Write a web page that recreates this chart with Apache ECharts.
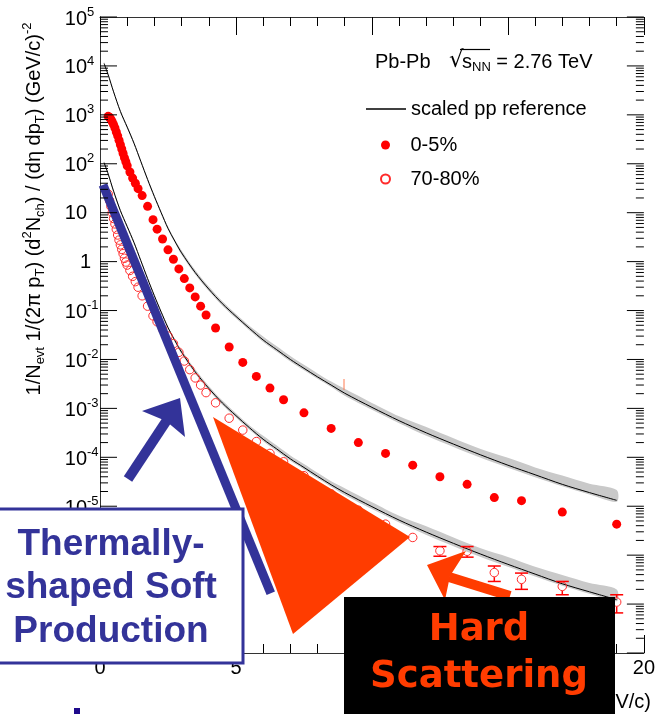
<!DOCTYPE html>
<html><head><meta charset="utf-8">
<script src="https://cdn.jsdelivr.net/npm/echarts@6/dist/echarts.min.js"></script>
<style>html,body{margin:0;padding:0;background:#fff}#c{width:658px;height:714px}</style>
</head><body><div id="c"></div>
<script>
// ---- data ----
const ptCentral = [0.30,0.35,0.40,0.45,0.50,0.55,0.60,0.65,0.70,0.75,0.80,0.85,0.90,0.95,1.00,1.10,1.20,1.30,1.40,1.55,1.75,1.95,2.10,2.30,2.50,2.70,2.90,3.10,3.30,3.50,3.70,3.90,4.25,4.75,5.25,5.75,6.25,6.75,7.5,8.5,9.5,10.5,11.5,12.5,13.5,14.5,15.5,17,19];
const yCentral = [933,891,813,724,631,537,447,372,302,245,200,162,132,110,91,68,51,40,31,22.4,13.5,7.2,4.6,2.9,1.74,1.12,0.71,0.45,0.29,0.19,0.123,0.081,0.044,0.018,0.0087,0.0045,0.0026,0.0015,8.1e-4,3.9e-4,2.0e-4,1.2e-4,6.9e-5,4.0e-5,2.8e-5,1.5e-5,1.3e-5,7.6e-6,4.3e-6];
const ptPeripheral = [0.30,0.35,0.40,0.45,0.50,0.55,0.60,0.65,0.70,0.75,0.80,0.85,0.90,0.95,1.00,1.10,1.20,1.30,1.40,1.55,1.75,1.95,2.10,2.30,2.50,2.70,2.90,3.10,3.30,3.50,3.70,3.90,4.25,4.75,5.25,5.75,6.25,6.75,7.5,8.5,9.5,10.5,11.5,12.5,13.5,14.5,15.5,17,19];
const yPeripheral = [24,17.8,13.5,10,7.6,5.9,4.6,3.5,2.75,2.2,1.78,1.45,1.17,0.98,0.85,0.66,0.50,0.39,0.30,0.20,0.123,0.078,0.059,0.042,0.030,0.021,0.014,0.0093,0.0062,0.0042,0.0030,0.0021,0.0013,6.3e-4,3.6e-4,2.1e-4,1.2e-4,8.1e-5,4.2e-5,1.8e-5,8.3e-6,4.3e-6,2.3e-6,1.23e-6,1.2e-6,4.4e-7,3.2e-7,2.3e-7,1.1e-7];
// error bars on the peripheral points at high pT
const errPt = [12.5,13.5,14.5,15.5,17,19];
const errY  = [1.23e-6,1.2e-6,4.4e-7,3.2e-7,2.3e-7,1.1e-7];
const errLo = [9.5e-7,9.1e-7,2.9e-7,2.0e-7,1.55e-7,6.6e-8];
const errHi = [1.5e-6,1.5e-6,6.0e-7,4.3e-7,2.9e-7,1.55e-7];
// scaled pp references
const ptRef = [0.15,0.3,0.5,0.75,1.0,1.25,1.5,1.75,2.0,2.25,2.5,2.75,3.0,3.5,4.0,4.5,5.0,5.5,6.0,6.5,7.0,7.5,8.0,8.5,9.0,10,11,12,13,14,15,16,17,18,19];
const refCentral = [11200,6600,2950,1175,562,263,112,47.9,21.4,10,4.8,2.63,1.51,0.60,0.275,0.138,0.076,0.043,0.025,0.0158,0.01,0.0066,0.0044,0.003,0.00204,1.05e-3,5.6e-4,3.16e-4,1.86e-4,1.12e-4,6.9e-5,4.4e-5,2.8e-5,1.9e-5,1.32e-5];
const refPeripheral = [105,62,27.5,11,5.2,2.45,1.05,0.45,0.2,0.093,0.045,0.0245,0.0141,0.0056,2.57e-3,1.29e-3,7.1e-4,4.0e-4,2.34e-4,1.48e-4,9.3e-5,6.2e-5,4.1e-5,2.75e-5,1.9e-5,9.8e-6,5.2e-6,2.95e-6,1.74e-6,1.05e-6,6.5e-7,4.1e-7,2.6e-7,1.78e-7,1.23e-7];
// grey band (systematic uncertainty, in decades above/below the reference)
const bandUp = [0.03,0.03,0.03,0.03,0.03,0.03,0.03,0.03,0.03,0.03,0.03,0.03,0.05,0.05,0.05,0.05,0.05,0.05,0.07,0.07,0.07,0.07,0.07,0.07,0.09,0.09,0.09,0.12,0.12,0.12,0.15,0.15,0.18,0.18,0.21];
const bandDn = [0.03,0.03,0.03,0.03,0.03,0.03,0.03,0.03,0.03,0.03,0.03,0.03,0.04,0.04,0.04,0.04,0.04,0.04,0.04,0.04,0.04,0.04,0.04,0.04,0.05,0.05,0.05,0.06,0.06,0.06,0.05,0.05,0.04,0.04,0.03];
// "thermal" straight line annotation (endpoints)
const thermalPt = [0.11, 6.28];
const thermalY = [37, 1.66e-7];
// axis ranges / ticks
const xTicks = [0,5,10,15,20];
const yTickExp = [-8,-7,-6,-5,-4,-3,-2,-1,0,1,2,3,4,5];
const seriesNames = ['scaled pp reference','0-5%','70-80%'];

// ---- chart ----
const FONT = '"Liberation Sans", Arial, Helvetica, sans-serif';
const BOLD2 = '"DejaVu Sans", sans-serif';
const NAVY = '#333399', ORANGE = '#ff3c00';
const chart = echarts.init(document.getElementById('c'), null, {renderer:'canvas'});

const zip = (a,b) => a.map((v,i)=>[v,b[i]]);
const yMin = Math.pow(10, yTickExp[0]), yMax = Math.pow(10, yTickExp[yTickExp.length-1]);
// tick marks for the log axis: [kind, value, exponent]  kind 1 = decade, 0 = minor
const yTickMarks = [];
yTickExp.forEach((e, i) => {
  yTickMarks.push([1, Math.pow(10, e), e]);
  if (i < yTickExp.length - 1) for (let k = 2; k <= 9; k++) yTickMarks.push([0, k*Math.pow(10, e), e]);
});

function bandSeries(ref){
  return {
    type:'custom', z:1, silent:true, data:[[1,1]],
    renderItem(params, api){
      const top = [], bot = [];
      for (let i=0;i<ptRef.length;i++){
        top.push(api.coord([ptRef[i], ref[i]*Math.pow(10,bandUp[i])]));
        bot.push(api.coord([ptRef[i], ref[i]/Math.pow(10,bandDn[i])]));
      }
      return {type:'polygon', shape:{points: top.concat(bot.reverse()), smooth:0.3}, style:{fill:'#c9c9c9'}};
    }
  };
}

const axisLineStyle = {color:'#333', width:1};
const tickStyle = {color:'#000', width:1};

const option = {
  animation:false,
  textStyle:{fontFamily:FONT},
  grid:{left:100, top:17, width:551, height:636, show:false},
  legend:[
    {left:366, top:99, itemWidth:40, itemHeight:1.3, padding:0, icon:'rect',
     data:[seriesNames[0]], selectedMode:false, itemStyle:{color:'#000'},
     textStyle:{fontSize:20, color:'#000', fontFamily:FONT}},
    {orient:'vertical', left:380, top:135, itemWidth:40, itemHeight:9, itemGap:14, padding:0, icon:'circle',
     data:[seriesNames[1], seriesNames[2]], selectedMode:false,
     textStyle:{fontSize:20, color:'#000', fontFamily:FONT}}
  ],
  xAxis:[
    {type:'value', min:xTicks[0], max:xTicks[xTicks.length-1], interval:5, position:'bottom',
     axisLine:{lineStyle:axisLineStyle}, splitLine:{show:false},
     axisTick:{inside:true, length:18, lineStyle:tickStyle},
     minorTick:{show:true, splitNumber:5, length:9, lineStyle:tickStyle},
     axisLabel:{fontSize:20, color:'#000', margin:5, fontFamily:FONT}},
    {type:'value', min:xTicks[0], max:xTicks[xTicks.length-1], interval:5, position:'top',
     axisLine:{lineStyle:axisLineStyle}, splitLine:{show:false},
     axisTick:{inside:true, length:18, lineStyle:tickStyle},
     minorTick:{show:true, splitNumber:5, length:9, lineStyle:tickStyle},
     axisLabel:{show:false}}
  ],
  yAxis:[
    {type:'log', logBase:10, min:yMin, max:yMax, position:'left',
     axisLine:{lineStyle:axisLineStyle}, splitLine:{show:false},
     axisTick:{show:false}, minorTick:{show:false}, axisLabel:{show:false}},
    {type:'log', logBase:10, min:yMin, max:yMax, position:'right',
     axisLine:{lineStyle:axisLineStyle}, splitLine:{show:false},
     axisTick:{show:false}, minorTick:{show:false}, axisLabel:{show:false}}
  ],
  series:[
    bandSeries(refCentral),
    bandSeries(refPeripheral),
    {name:seriesNames[0], type:'line', z:2, data:zip(ptRef, refCentral), symbol:'none', smooth:0.3,
     lineStyle:{color:'#000', width:1}, itemStyle:{color:'#000'}},
    {name:seriesNames[0], type:'line', z:2, data:zip(ptRef, refPeripheral), symbol:'none', smooth:0.3,
     lineStyle:{color:'#000', width:1}, itemStyle:{color:'#000'}},
    {name:seriesNames[1], type:'scatter', z:3, data:zip(ptCentral, yCentral), symbol:'circle', symbolSize:9,
     itemStyle:{color:'#ff0000', opacity:1}},
    {name:seriesNames[2], type:'scatter', z:3, data:zip(ptPeripheral, yPeripheral), symbol:'circle', symbolSize:8.5,
     itemStyle:{color:'rgba(255,0,0,0)', borderColor:'#ff2a2a', borderWidth:1, opacity:1}},
    {type:'custom', z:3, silent:true,
     data: errPt.map((p,i)=>[p, errY[i], errLo[i], errHi[i]]),
     encode:{x:0, y:1},
     renderItem(params, api){
       const c = api.coord([api.value(0), api.value(1)]);
       const pl = api.coord([api.value(0), api.value(2)]);
       const ph = api.coord([api.value(0), api.value(3)]);
       const r = 4.5, w = 6.5, st = {stroke:'#ff0000', lineWidth:1.5};
       const ch = [];
       if (pl[1] > c[1] + r) ch.push({type:'line', shape:{x1:c[0], y1:c[1]+r, x2:c[0], y2:pl[1]}, style:st});
       if (ph[1] < c[1] - r) ch.push({type:'line', shape:{x1:c[0], y1:c[1]-r, x2:c[0], y2:ph[1]}, style:st});
       ch.push({type:'line', shape:{x1:c[0]-w, y1:pl[1], x2:c[0]+w, y2:pl[1]}, style:st});
       ch.push({type:'line', shape:{x1:c[0]-w, y1:ph[1], x2:c[0]+w, y2:ph[1]}, style:st});
       return {type:'group', children:ch};
     }},
    {type:'line', z:5, silent:true, data:zip(thermalPt, thermalY), symbol:'none',
     lineStyle:{color:NAVY, width:9, cap:'butt'}},
    // log-axis ticks (decades + 2..9) on left and right, and decade labels on the left
    {type:'custom', z:6, silent:true, clip:false, data:yTickMarks, encode:{x:0, y:1},
     renderItem(params, api){
       const major = api.value(0) === 1;
       const v = api.value(1), e = api.value(2);
       const l = api.coord([0, v]);
       const r = api.coord([20, v]);
       const len = major ? 17 : 8;
       const st = {stroke:'#000', lineWidth:1};
       const ch = [
         {type:'line', shape:{x1:l[0], y1:l[1], x2:l[0]+len, y2:l[1]}, style:st},
         {type:'line', shape:{x1:r[0]-len, y1:r[1], x2:r[0], y2:r[1]}, style:st}
       ];
       if (major){
         const base = {fill:'#000', fontFamily:FONT, verticalAlign:'middle'};
         if (e === 0) {
           ch.push({type:'text', x:l[0]-9, y:l[1]+1, style:Object.assign({text:'1', fontSize:20, align:'right'}, base)});
         } else if (e === 1) {
           ch.push({type:'text', x:l[0]-13, y:l[1]+1, style:Object.assign({text:'10', fontSize:20, align:'right'}, base)});
         } else {
           ch.push({type:'text', x:l[0]-13, y:l[1]+2, style:Object.assign({text:'10', fontSize:20, align:'right'}, base)});
           ch.push({type:'text', x:l[0]-13, y:l[1]-5, style:Object.assign({text:String(e), fontSize:13, align:'left'}, base)});
         }
       }
       return {type:'group', children:ch};
     }}
  ],
  graphic:[
    // axis titles
    {type:'text', z:50, x:34, y:209, rotation:Math.PI/2,
     style:{text:'1/N{sub|evt} 1/(2π p{sub|T}) (d{sup|2}N{sub|ch}) / (dη dp{sub|T}) (GeV/c){sup|-2}',
       fontSize:20, fontFamily:FONT, fill:'#000', align:'center', verticalAlign:'middle', lineHeight:26,
       rich:{sub:{fontSize:13, fontFamily:FONT, verticalAlign:'bottom', lineHeight:13},
             sup:{fontSize:13, fontFamily:FONT, verticalAlign:'top', lineHeight:13}}}},
    {type:'text', z:50, x:651, y:702,
     style:{text:'p{sub|T} (GeV/c)', fontSize:20, fontFamily:FONT, fill:'#000', align:'right', verticalAlign:'middle', lineHeight:24,
       rich:{sub:{fontSize:13, fontFamily:FONT, verticalAlign:'bottom', lineHeight:13}}}},
    // header
    {type:'text', z:50, x:375, y:62, style:{text:'Pb-Pb', fontSize:20, fontFamily:FONT, fill:'#000', verticalAlign:'middle'}},
    {type:'text', z:50, x:449, y:61, style:{text:'√', fontSize:23, fontFamily:'"DejaVu Sans", sans-serif', fill:'#000', verticalAlign:'middle'}},
    {type:'line', z:50, shape:{x1:460, y1:49.5, x2:490, y2:49.5}, style:{stroke:'#000', lineWidth:1.2}},
    {type:'text', z:50, x:462, y:62,
     style:{text:'s{sub|NN} = 2.76 TeV', fontSize:20, fontFamily:FONT, fill:'#000', verticalAlign:'middle', lineHeight:24,
       rich:{sub:{fontSize:13, fontFamily:FONT, verticalAlign:'bottom', lineHeight:13}}}},
    // small stray error tick
    {type:'line', z:50, shape:{x1:344, y1:379, x2:344, y2:390}, style:{stroke:'#ff7a50', lineWidth:1}},
    // blue arrow
    {type:'line', z:100, shape:{x1:128, y1:479, x2:167, y2:420}, style:{stroke:NAVY, lineWidth:10}},
    {type:'polygon', z:100, shape:{points:[[180,398],[142,411],[166,421],[185,437]]}, style:{fill:NAVY}},
    // orange triangle
    {type:'polygon', z:100, shape:{points:[[213,417],[410,537],[293,634]]}, style:{fill:ORANGE}},
    // orange arrow
    {type:'line', z:100, shape:{x1:449, y1:577, x2:510, y2:596}, style:{stroke:ORANGE, lineWidth:10}},
    {type:'polygon', z:100, shape:{points:[[427,565],[466,551],[450,576],[445,600]]}, style:{fill:ORANGE}},
    // thermal box
    {type:'rect', z:100, shape:{x:-5, y:509, width:248, height:154}, style:{fill:'#fff', stroke:NAVY, lineWidth:3}},
    {type:'text', z:101, x:111, y:588,
     style:{text:'Thermally-\nshaped Soft\nProduction', fontSize:37, fontWeight:'bold', fontFamily:FONT, fill:NAVY,
       align:'center', verticalAlign:'middle', lineHeight:43.5}},
    // hard scattering box
    {type:'rect', z:100, shape:{x:344, y:597, width:271, height:120}, style:{fill:'#000'}},
    {type:'text', z:101, x:479, y:653.5,
     style:{text:'Hard\nScattering', fontSize:37, fontWeight:'bold', fontFamily:BOLD2, fill:ORANGE,
       align:'center', verticalAlign:'middle', lineHeight:47}},
    {type:'rect', z:100, shape:{x:74, y:708, width:6, height:6}, style:{fill:'#1f0a8c'}}
  ]
};
chart.setOption(option);
</script>
</body></html>
